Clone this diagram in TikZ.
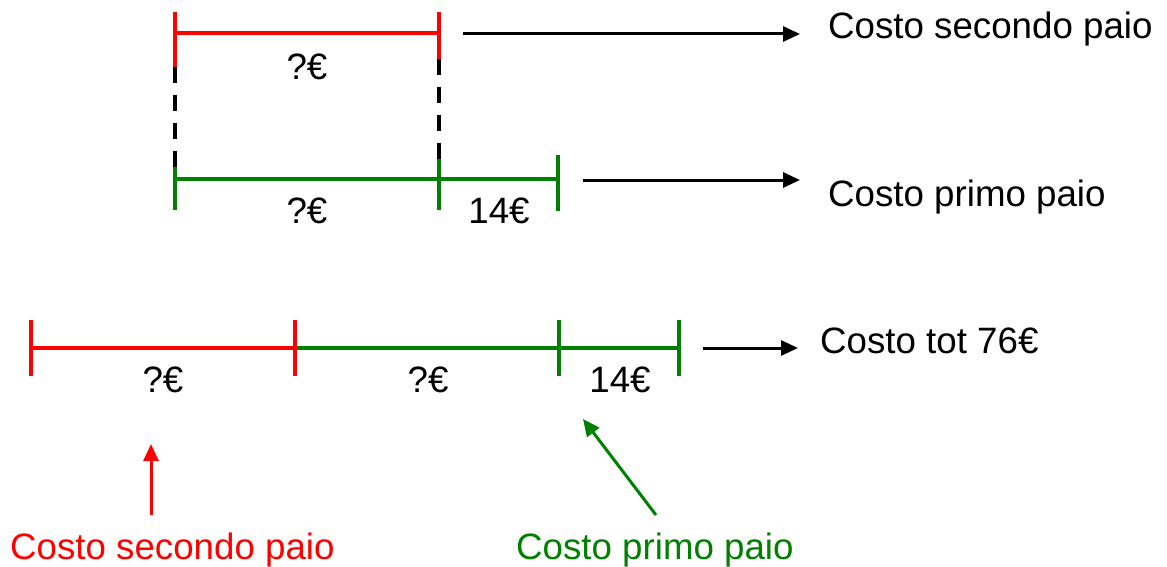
\documentclass[tikz,border=0pt]{standalone}
\usepackage{fontspec}
\setmainfont{Liberation Sans}
\usetikzlibrary{arrows.meta}
\definecolor{myred}{RGB}{255,0,0}
\definecolor{mygreen}{RGB}{0,128,0}
\begin{document}
\begin{tikzpicture}[x=1pt,y=-1pt,
  bar/.style={line width=4.6pt},
  tickmark/.style={line width=3.6pt},
  link/.style={line width=3.6pt, dash pattern=on 16pt off 12pt},
  arr/.style={line width=3pt,-{Triangle[length=17pt,width=15pt]}},
  lbl/.style={inner sep=0pt, anchor=base, font=\fontsize{36.7}{44}\selectfont},
  txt/.style={inner sep=0pt, anchor=base west, font=\fontsize{36.7}{44}\selectfont}]
\useasboundingbox (0,0) rectangle (1167,567);

% ---- top: second pair
\coordinate (r1) at (175,33);
\coordinate (r2) at (439,33);
\draw[myred,bar] (r1) -- (r2);
\draw[myred,tickmark] (175,12) -- (175,67);
\draw[myred,tickmark] (439,12) -- (439,59);
\node[lbl] (q1) at (307,80) {?€};

% dashed links
\draw[link] (175,67) -- (175,167);
\draw[link] (439,59) -- (439,159);

% ---- middle: first pair
\coordinate (g1) at (175,179);
\coordinate (g2) at (439,179);
\coordinate (g3) at (558,179);
\draw[mygreen,bar] (g1) -- (g3);
\draw[mygreen,tickmark] (175,167) -- (175,210);
\draw[mygreen,tickmark] (439,159) -- (439,210);
\draw[mygreen,tickmark] (558,155) -- (558,211);
\node[lbl] (q2) at (307,223) {?€};
\node[lbl] (f1) at (499,223) {14€};

% right labels
\node[txt] (t1) at (828,39) {Costo secondo paio};
\node[txt] (t2) at (828,206) {Costo primo paio};
\node[txt] (t3) at (820,353) {Costo tot 76€};

\coordinate (a1s) at (463,34);
\coordinate (a1e) at (800,34);
\coordinate (a2s) at (583,180);
\coordinate (a2e) at (800,180);
\coordinate (a3s) at (703,348);
\coordinate (a3e) at (798,348);
\draw[arr] (a1s) -- (a1e);
\draw[arr] (a2s) -- (a2e);
\draw[arr] (a3s) -- (a3e);

% ---- bottom: total
\coordinate (b1) at (31,348);
\coordinate (b2) at (295,348);
\coordinate (b3) at (559,348);
\coordinate (b4) at (679,348);
\draw[myred,bar] (b1) -- (b2);
\draw[mygreen,bar] (b2) -- (b4);
\draw[myred,tickmark] (31,320) -- (31,376);
\draw[myred,tickmark] (295,320) -- (295,376);
\draw[mygreen,tickmark] (559,320) -- (559,376);
\draw[mygreen,tickmark] (679,320) -- (679,376);
\node[lbl] (q3) at (163,392) {?€};
\node[lbl] (q4) at (428,392) {?€};
\node[lbl] (f2) at (620,392) {14€};

% bottom captions and pointers
\node[txt,text=myred] (c1) at (10,559) {Costo secondo paio};
\node[txt,text=mygreen] (c2) at (516,559) {Costo primo paio};
\coordinate (p1s) at (151,515);
\coordinate (p1e) at (151,444);
\coordinate (p2s) at (656,515);
\coordinate (p2e) at (583,419);
\draw[arr,myred] (p1s) -- (p1e);
\draw[arr,mygreen] (p2s) -- (p2e);
\end{tikzpicture}
\end{document}
